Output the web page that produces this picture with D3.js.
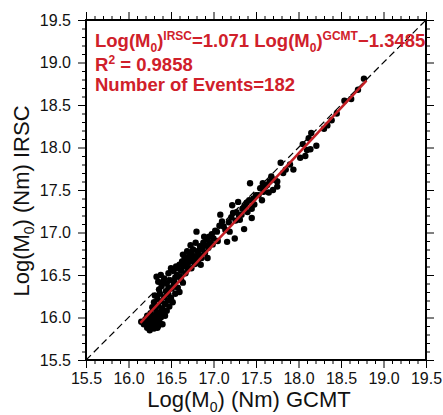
<!DOCTYPE html>
<html>
<head>
<meta charset="utf-8">
<script src="https://cdn.jsdelivr.net/npm/d3@7"></script>
<style>
  body { margin: 0; background: #fff; }
  svg { display: block; font-family: "Liberation Sans", Arial, sans-serif; }
</style>
</head>
<body>
<div id="chart"></div>
<script>
// GCMT moment magnitudes (x) and IRSC (y)
var gcmt = [
  16.15,16.18,16.20,16.22,16.24,16.25,16.27,16.28,16.30,16.31,16.33,16.35,16.36,16.38,16.40,16.22,16.26,16.29,16.33,16.37,16.41,
  16.28,16.30,16.32,16.34,16.35,16.37,16.38,16.40,16.42,16.43,16.44,16.45,16.46,16.47,16.48,16.50,16.51,16.52,16.31,16.36,16.39,16.41,
  16.33,16.35,16.38,16.42,16.45,16.47,16.49,16.53,16.55,16.57,16.53,16.50,
  16.62,16.64,16.55,16.58,16.60,
  16.58,16.60,16.62,16.63,16.65,16.66,16.68,16.70,16.71,16.72,16.74,16.75,16.76,16.77,16.78,16.80,16.81,16.83,16.84,16.86,
  16.87,16.88,16.90,16.91,16.92,16.94,16.95,16.96,16.98,16.99,16.73,16.80,16.69,16.85,16.67,16.74,16.79,16.89,16.93,16.64,
  17.00,17.02,17.04,17.05,17.07,17.08,17.10,17.12,17.14,17.16,17.18,17.19,17.21,17.23,17.25,17.26,17.27,17.29,
  17.30,17.31,17.33,17.34,17.36,17.37,17.39,17.40,17.42,17.43,17.45,17.45,17.47,17.48,17.50,17.36,17.22,
  17.53,17.55,17.57,17.59,17.61,17.63,17.66,17.68,17.70,17.72,17.75,17.75,17.79,17.85,17.90,17.94,
  18.02,18.05,18.08,18.10,18.12,18.14,18.15,18.21,17.65,17.58,17.82,
  18.34,18.39,18.45,18.54,18.62,18.70,18.77,18.30,
  16.21,16.26,16.32,16.34,16.39,16.43,16.47,16.54,16.56,16.61,16.70,16.82
];
var irsc = [
  15.95,15.92,15.98,15.88,15.93,15.85,15.90,15.96,15.87,15.93,15.98,15.90,15.95,16.00,15.92,16.02,16.05,16.01,16.06,16.04,16.03,
  16.12,16.18,16.10,16.22,16.14,16.28,16.19,16.11,16.24,16.16,16.31,16.08,16.20,16.27,16.13,16.23,16.34,16.18,16.26,16.33,16.37,16.42,
  16.48,16.42,16.50,16.46,16.40,16.52,16.44,16.38,16.47,16.50,16.55,16.58,
  16.44,16.41,16.28,16.35,16.30,
  16.58,16.62,16.55,16.66,16.60,16.70,16.64,16.58,16.72,16.68,16.76,16.66,16.80,16.72,16.63,16.68,16.78,16.74,16.84,16.70,
  16.80,16.88,16.76,16.85,16.92,16.82,16.95,16.88,16.98,16.86,16.85,17.01,16.78,16.62,16.52,16.58,16.88,16.95,16.70,16.74,
  16.93,17.02,17.01,16.90,17.08,17.21,17.13,17.07,17.03,16.89,17.12,17.01,17.18,17.23,16.93,17.14,17.24,17.36,
  17.20,17.15,17.21,17.28,17.30,17.31,17.35,17.24,17.38,17.58,17.28,17.17,17.40,17.33,17.44,17.04,17.32,
  17.44,17.52,17.38,17.48,17.54,17.56,17.60,17.66,17.50,17.62,17.60,17.54,17.82,17.74,17.80,17.74,
  17.88,18.04,17.90,17.97,18.11,17.98,18.17,18.02,17.47,17.58,17.70,
  18.26,18.32,18.40,18.55,18.57,18.68,18.81,18.22,
  15.96,15.99,16.03,15.88,16.08,16.02,16.35,16.42,16.60,16.48,16.64,16.64
];

var majorTicks = [15.5, 16.0, 16.5, 17.0, 17.5, 18.0, 18.5, 19.0, 19.5];
var fitSlope = 1.071, fitIntercept = -1.3485;
var fitRange = [16.14, 18.8];
var domain = [15.5, 19.5];

var margin = {top: 20, left: 86},
    size = 340;

var svg = d3.select("#chart").append("svg")
    .attr("width", 443)
    .attr("height", 415);

var x = d3.scaleLinear().domain(domain).range([0, size]);
var y = d3.scaleLinear().domain(domain).range([size, 0]);

var minorTicks = d3.range(155, 196).map(function(d) { return d / 10; })
    .filter(function(d) { return majorTicks.indexOf(d) < 0; });

var g = svg.append("g")
    .attr("transform", "translate(" + margin.left + "," + margin.top + ")");

// minor ticks
function minor(axis) {
    return axis.tickValues(minorTicks).tickSize(4).tickFormat("");
}
g.append("g").attr("class", "minor").attr("transform", "translate(0," + size + ")").call(minor(d3.axisBottom(x)));
g.append("g").attr("class", "minor").call(minor(d3.axisTop(x)));
g.append("g").attr("class", "minor").call(minor(d3.axisLeft(y)));
g.append("g").attr("class", "minor").attr("transform", "translate(" + size + ",0)").call(minor(d3.axisRight(y)));

// major ticks
var fmt = d3.format(".1f");
g.append("g").attr("class", "major xb").attr("transform", "translate(0," + size + ")")
    .call(d3.axisBottom(x).tickValues(majorTicks).tickSize(8).tickPadding(5).tickFormat(fmt));
g.append("g").attr("class", "major").call(d3.axisTop(x).tickValues(majorTicks).tickSize(8).tickFormat(""));
g.append("g").attr("class", "major yl")
    .call(d3.axisLeft(y).tickValues(majorTicks).tickSize(8).tickPadding(7).tickFormat(fmt));
g.append("g").attr("class", "major").attr("transform", "translate(" + size + ",0)")
    .call(d3.axisRight(y).tickValues(majorTicks).tickSize(8).tickFormat(""));

g.selectAll(".domain").remove();
g.selectAll(".tick line").attr("stroke", "#000").attr("stroke-width", 1);
g.selectAll(".tick text")
    .attr("fill", "#111")
    .style("font-size", "16px")
    .style("font-family", "'Liberation Sans', Arial, sans-serif");

// 1:1 dashed line
g.append("line")
    .attr("x1", x(domain[0])).attr("y1", y(domain[0]))
    .attr("x2", x(domain[1])).attr("y2", y(domain[1]))
    .attr("stroke", "#000")
    .attr("stroke-width", 1.2)
    .attr("stroke-dasharray", "7,4");

// points
g.selectAll("circle")
    .data(gcmt)
    .enter().append("circle")
    .attr("cx", function(d) { return x(d); })
    .attr("cy", function(d, i) { return y(irsc[i]); })
    .attr("r", 3.2)
    .attr("fill", "#000");

// regression line
g.append("line")
    .attr("x1", x(fitRange[0])).attr("y1", y(fitSlope * fitRange[0] + fitIntercept))
    .attr("x2", x(fitRange[1])).attr("y2", y(fitSlope * fitRange[1] + fitIntercept))
    .attr("stroke", "#c41e24")
    .attr("stroke-width", 2.5);

// frame
g.append("rect")
    .attr("width", size)
    .attr("height", size)
    .attr("fill", "none")
    .attr("stroke", "#000")
    .attr("stroke-width", 2);

// annotation
var red = "#d0202a";
var ann = g.append("g")
    .attr("fill", red)
    .style("font-weight", "bold")
    .style("font-size", "18.5px");

var t1 = ann.append("text").attr("x", 9).attr("y", 27);
t1.append("tspan").text("Log(M");
t1.append("tspan").attr("dy", 5).style("font-size", "12px").text("0");
t1.append("tspan").attr("dy", -5).text(")");
t1.append("tspan").attr("dy", -7).style("font-size", "12px").text("IRSC");
t1.append("tspan").attr("dy", 7).text("=" + fitSlope + " Log(M");
t1.append("tspan").attr("dy", 5).style("font-size", "12px").text("0");
t1.append("tspan").attr("dy", -5).text(")");
t1.append("tspan").attr("dy", -7).style("font-size", "12px").text("GCMT");
t1.append("tspan").attr("dy", 7).text("\u2212" + Math.abs(fitIntercept));

var t2 = ann.append("text").attr("x", 9).attr("y", 50.5);
t2.append("tspan").text("R");
t2.append("tspan").attr("dy", -7).style("font-size", "12px").text("2");
t2.append("tspan").attr("dy", 7).text(" = 0.9858");

ann.append("text").attr("x", 9).attr("y", 71).text("Number of Events=" + gcmt.length);

// axis titles
var xt = svg.append("text")
    .attr("x", 249)
    .attr("y", 407)
    .attr("text-anchor", "middle")
    .style("font-size", "22px")
    .attr("fill", "#111");
xt.append("tspan").text("Log(M");
xt.append("tspan").attr("dy", 5).style("font-size", "14px").text("0");
xt.append("tspan").attr("dy", -5).text(") (Nm) GCMT");

var yt = svg.append("text")
    .attr("transform", "translate(29,201) rotate(-90)")
    .attr("text-anchor", "middle")
    .style("font-size", "22px")
    .attr("fill", "#111");
yt.append("tspan").text("Log(M");
yt.append("tspan").attr("dy", 5).style("font-size", "14px").text("0");
yt.append("tspan").attr("dy", -5).text(") (Nm) IRSC");
</script>
</body>
</html>
